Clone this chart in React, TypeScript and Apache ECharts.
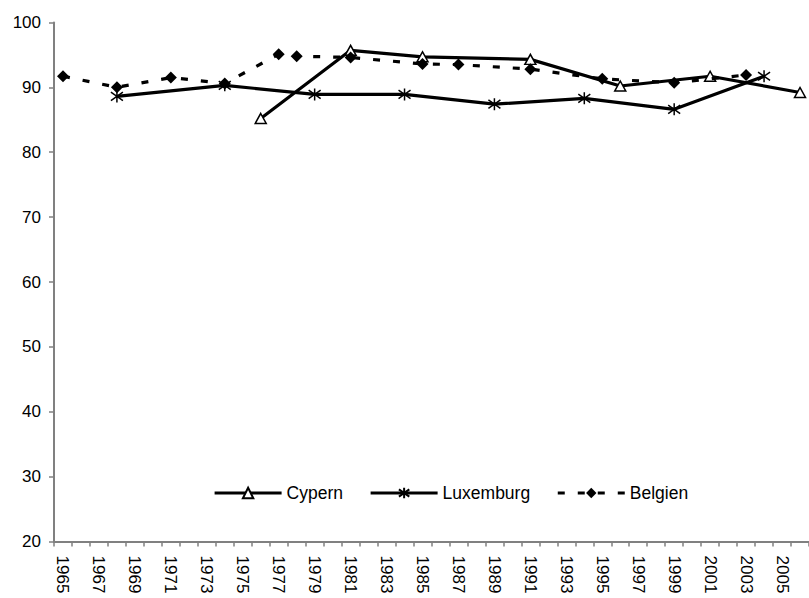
import React, { useEffect, useRef } from "react";
import * as echarts from "echarts";

const years = [
  "1965", "1966", "1967", "1968", "1969", "1970", "1971", "1972", "1973", "1974",
  "1975", "1976", "1977", "1978", "1979", "1980", "1981", "1982", "1983", "1984",
  "1985", "1986", "1987", "1988", "1989", "1990", "1991", "1992", "1993", "1994",
  "1995", "1996", "1997", "1998", "1999", "2000", "2001", "2002", "2003", "2004",
  "2005", "2006",
];

const cypernYears = ["1976", "1981", "1985", "1991", "1996", "2001", "2006"];
const cypernValues = [85.2, 95.7, 94.7, 94.3, 90.2, 91.7, 89.2];

const luxYears = ["1968", "1974", "1979", "1984", "1989", "1994", "1999", "2004"];
const luxValues = [88.6, 90.3, 88.9, 88.9, 87.4, 88.3, 86.6, 91.7];

const belYears = ["1965", "1968", "1971", "1974", "1977", "1978", "1981", "1985", "1987", "1991", "1995", "1999", "2003"];
const belValues = [91.7, 90.0, 91.5, 90.6, 95.1, 94.8, 94.6, 93.6, 93.5, 92.8, 91.3, 90.7, 91.9];

const yTicks = { min: 20, max: 100, interval: 10 };

const FONT = "'Liberation Sans', Arial, sans-serif";
const ASTERISK = "path://M5 0 L5 10 M0.7 1.5 L9.3 8.5 M9.3 1.5 L0.7 8.5";

export default function App() {
  const ref = useRef<HTMLDivElement>(null);
  useEffect(() => {
    if (!ref.current) return;
    const chart = echarts.init(ref.current, undefined, { renderer: "svg" });
    const pair = (ys: string[], vs: number[]) => ys.map((y, i) => [y, vs[i]]);
    chart.setOption({
      animation: false,
      backgroundColor: "#fff",
      textStyle: { fontFamily: FONT, color: "#000" },
      grid: { left: 54, top: 22.4, width: 757, height: 519.2, containLabel: false },
      xAxis: {
        type: "category",
        data: years,
        boundaryGap: true,
        axisLine: { lineStyle: { color: "#808080", width: 2 } },
        axisTick: { show: true, interval: 0, length: 5, lineStyle: { color: "#808080", width: 1.5 } },
        axisLabel: { interval: 1, rotate: -90, margin: 14, fontSize: 17, color: "#000", fontFamily: FONT },
        splitLine: { show: false },
      },
      yAxis: {
        type: "value",
        min: yTicks.min,
        max: yTicks.max,
        interval: yTicks.interval,
        axisLine: { show: true, lineStyle: { color: "#808080", width: 2 } },
        axisTick: { show: true, length: 5, lineStyle: { color: "#808080", width: 1.5 } },
        axisLabel: { margin: 13, fontSize: 17, color: "#000", fontFamily: FONT },
        splitLine: { show: false },
      },
      legend: {
        left: 213,
        top: 484,
        padding: 0,
        itemWidth: 67,
        itemHeight: 13,
        itemGap: 26,
        lineStyle: { width: 3.2 },
        textStyle: { fontSize: 17.5, color: "#000", fontFamily: FONT },
        data: ["Cypern", "Luxemburg", "Belgien"],
      },
      series: [
        {
          name: "Cypern",
          type: "line",
          data: pair(cypernYears, cypernValues),
          showAllSymbol: true,
          symbol: "triangle",
          symbolSize: [11, 10],
          lineStyle: { color: "#000", width: 3.2 },
          itemStyle: { color: "#fff", borderColor: "#000", borderWidth: 1.5 },
          z: 3,
        },
        {
          name: "Luxemburg",
          type: "line",
          data: pair(luxYears, luxValues),
          showAllSymbol: true,
          symbol: ASTERISK,
          symbolSize: 12,
          lineStyle: { color: "#000", width: 3.2 },
          itemStyle: { color: "#000", borderColor: "#000", borderWidth: 1.5 },
          z: 2,
        },
        {
          name: "Belgien",
          type: "line",
          data: pair(belYears, belValues),
          showAllSymbol: true,
          symbol: "diamond",
          symbolSize: [12, 12],
          lineStyle: { color: "#000", width: 3.2, type: [7, 13] },
          itemStyle: { color: "#000", borderColor: "#000", borderWidth: 0 },
          z: 4,
        },
      ],
    });
    return () => chart.dispose();
  }, []);
  return (
    <div
      ref={ref}
      style={{ position: "absolute", left: 0, top: 0, width: 809, height: 598, background: "#fff" }}
    />
  );
}
